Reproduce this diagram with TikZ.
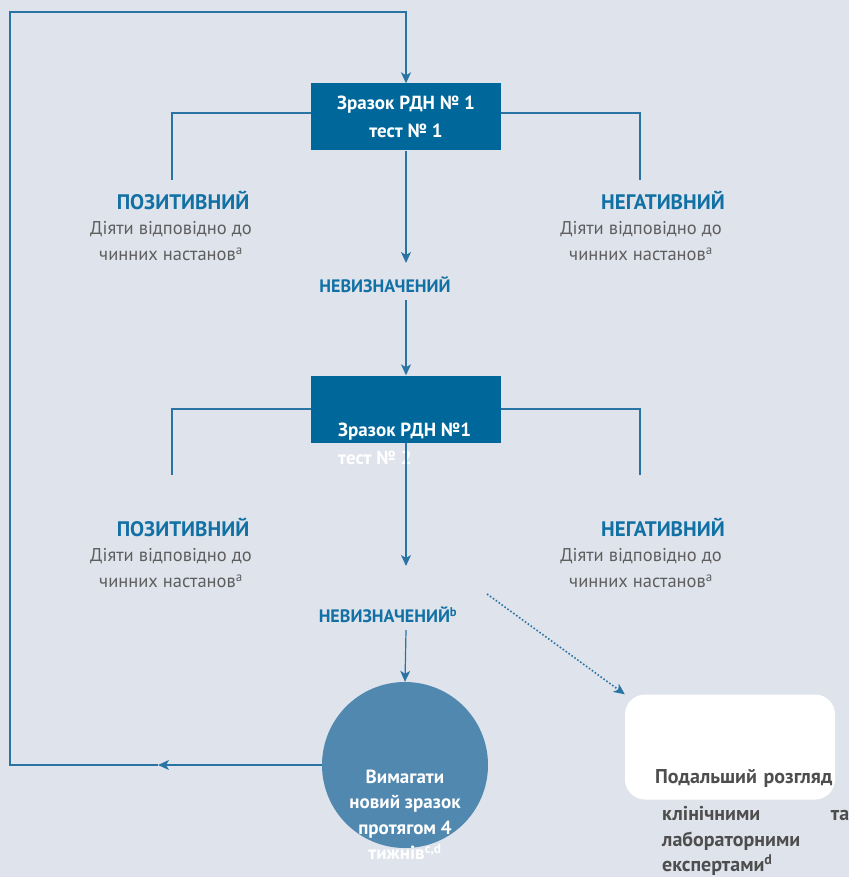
\documentclass[tikz,border=0pt]{standalone}
\usepackage{fontspec}
\setmainfont{PT Sans}
\definecolor{panelbg}{HTML}{DFE3EC}
\definecolor{boxblue}{HTML}{00679A}
\definecolor{circblue}{HTML}{5088B0}
\definecolor{lineblue}{HTML}{2A74A4}
\definecolor{labelblue}{HTML}{1170A4}
\definecolor{advgrey}{HTML}{5E5E5E}
\definecolor{revgrey}{HTML}{4E4E4E}
\tikzset{
    sample/.style={rectangle,fill=boxblue,minimum width=190pt,minimum height=67pt,inner sep=0pt},
    boxtext/.style={text=white,inner sep=0pt,font=\fontsize{19}{28}\selectfont\bfseries},
    outcome/.style={text=labelblue,inner sep=1pt,font=\fontsize{21}{24}\selectfont\bfseries},
    undecided/.style={text=labelblue,inner sep=1pt,font=\fontsize{18}{20}\selectfont\bfseries},
    advice/.style={text=advgrey,align=center,inner sep=1pt,font=\fontsize{18.5}{26}\selectfont},
    flow/.style={draw=lineblue,line width=1.2pt},
}
\usetikzlibrary{shapes,arrows.meta}
\usetikzlibrary{positioning}

\begin{document}
\begin{tikzpicture}[x=1pt,y=-1pt,>={Stealth[length=11pt,width=10pt,inset=3pt]}]
\fill[panelbg] (0,0) rectangle (849,877);
\useasboundingbox (0,0) rectangle (849,877);

% first test
\node[sample,text=white,align=center,font=\fontsize{19}{28}\selectfont\bfseries](box1) at (406,117) {Зразок РДН № 1\\тест № 1};
\node[outcome](pos1) at (183,200) {ПОЗИТИВНИЙ};
\node[advice](adv1) [below =10pt of pos1,xshift=-12pt] {Діяти відповідно до\\чинних настанов\textsuperscript{a}};
\node[outcome](neg1) at (663,200) {НЕГАТИВНИЙ};
\node[advice](adv2) [below =10pt of neg1,xshift=-22pt] {Діяти відповідно до\\чинних настанов\textsuperscript{a}};
\node[undecided](und1) at (385,285) {НЕВИЗНАЧЕНИЙ};
\coordinate (p1) at (172,180);
\coordinate (n1) at (640,180);
\draw[flow] (311,113) -| (p1);
\draw[flow] (501,113) -| (n1);
\draw[flow,->] (box1.south) -- (406,263);

% second test
\node[sample](box2) at (406,409) {};
\node[boxtext,align=left,anchor=north west] (box2txt) at (338,423) {Зразок РДН №1\\тест № 2};
\node[outcome](pos2) at (183,527) {ПОЗИТИВНИЙ};
\node[advice](adv3) [below =10pt of pos2,xshift=-12pt] {Діяти відповідно до\\чинних настанов\textsuperscript{a}};
\node[outcome](neg2) at (663,527) {НЕГАТИВНИЙ};
\node[advice](adv4) [below =10pt of neg2,xshift=-22pt] {Діяти відповідно до\\чинних настанов\textsuperscript{a}};
\node[undecided](und2) at (388,615) {НЕВИЗНАЧЕНИЙ\textsuperscript{b}};
\coordinate (p2) at (172,475);
\coordinate (n2) at (640,475);
\draw[flow,->] (406,300) -- (box2.north);
\draw[flow] (box2.west) -| (p2);
\draw[flow] (box2.east) -| (n2);
\draw[flow,->] (box2.south) -- (406,566);

% repeat sample
\node[circle,fill=circblue,minimum size=166pt,inner sep=0pt](circ) at (405,765) {};
\node[boxtext,align=center,font=\fontsize{19}{25.5}\selectfont\bfseries](circtxt) at (405,815) {Вимагати\\новий зразок\\протягом 4\\тижнів\textsuperscript{c,d}};
\draw[flow,->] (406,630) -- (circ.north);
\coordinate (loopmid) at (158,765);
\coordinate (loopbl) at (10,765);
\coordinate (looptl) at (10,12);
\draw[flow,->] (circ.west) -- (loopmid);
\draw[flow,->] (loopmid) -- (loopbl) -- (looptl) -| (box1.north);

% review
\node[rectangle,rounded corners=20pt,fill=white,minimum width=210pt,minimum height=105pt](review) at (730,747) {};
\node[text=revgrey,inner sep=0pt,anchor=north west,text width=194pt,align=left,font=\fontsize{20}{25.5}\selectfont\bfseries](revtxt) at (655,769) {Подальший розгляд\\[12pt]\hspace*{7pt}клінічними\hfill та\\\hspace*{7pt}лабораторними\\\hspace*{7pt}експертами\textsuperscript{d}};
\coordinate (dotstart) at (487,594);
\draw[draw=lineblue,line width=1.6pt,dotted,->] (dotstart) -- (review.north west);
\end{tikzpicture}
\end{document}
